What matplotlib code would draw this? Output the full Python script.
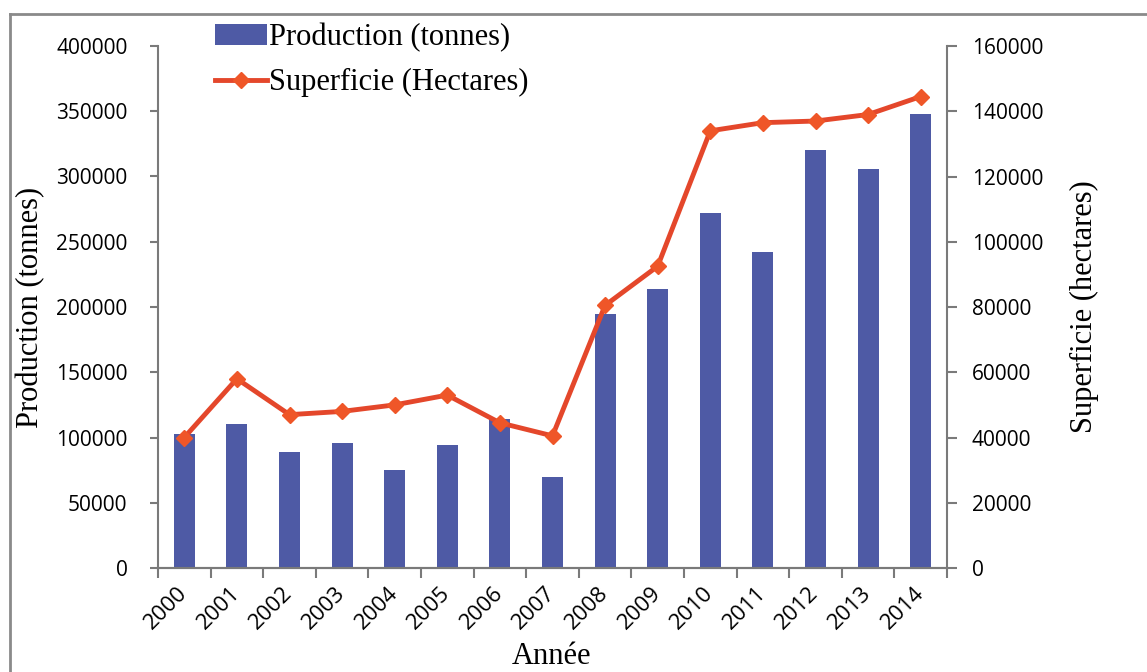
import numpy as np
import matplotlib
matplotlib.use("Agg")
import matplotlib.pyplot as plt
from matplotlib.lines import Line2D

# Données
annees = ["2000", "2001", "2002", "2003", "2004", "2005", "2006", "2007",
          "2008", "2009", "2010", "2011", "2012", "2013", "2014"]
production = [103000, 110000, 89000, 96000, 75000, 94000, 114000, 70000,
              195000, 214000, 272000, 242000, 320000, 306000, 348000]
superficie = [40000, 58000, 47000, 48000, 50000, 53000, 44500, 40500,
              80500, 92500, 134000, 136500, 137000, 139000, 144500]

W, H = 1147, 672
fig = plt.figure(figsize=(W / 100, H / 100), dpi=100)
fig.patch.set_facecolor("white")

# cadre gris (bord gauche et haut seulement visibles)
fig.add_artist(Line2D([10 / W, 10 / W], [0, 1 - 14 / H], transform=fig.transFigure,
                      color="#8a8a8a", lw=2))
fig.add_artist(Line2D([10 / W, 1], [1 - 14 / H, 1 - 14 / H], transform=fig.transFigure,
                      color="#8a8a8a", lw=2))

left, right, bottom, top = 158 / W, 947 / W, 1 - 568 / H, 1 - 46 / H
ax = fig.add_axes([left, bottom, right - left, top - bottom])
ax2 = ax.twinx()

x = np.arange(len(annees))
bar_color = "#4E5AA5"
line_color = "#E4472B"
mark_color = "#EF5628"

bars = ax.bar(x, production, width=0.4, color=bar_color, zorder=2,
              label="Production (tonnes)")
ln, = ax2.plot(x, superficie, color=line_color, lw=3.5, marker="D", markersize=8,
               markerfacecolor=mark_color, markeredgecolor=mark_color, zorder=3,
               label="Superficie (Hectares)")

ax.set_xlim(-0.5, len(annees) - 0.5)
ax.set_ylim(0, 400000)
ax2.set_ylim(0, 160000)
ax.set_yticks(np.arange(0, 400001, 50000))
ax2.set_yticks(np.arange(0, 160001, 20000))

tick_font = {"family": "Open Sans", "size": 16}
serif = "Liberation Serif"

# graduations aux limites des catégories, étiquettes au centre
ax.set_xticks(x)
ax.set_xticks(np.arange(-0.5, len(annees), 1.0), minor=True)
ax.tick_params(axis="x", which="major", length=0, pad=16)
ax.tick_params(axis="x", which="minor", length=7, width=1.5, color="#7a7a7a", direction="out")
ax.set_xticklabels(annees, rotation=45, ha="right", va="center",
                   rotation_mode="anchor", fontdict=tick_font)

ax.tick_params(axis="y", length=6, width=1.5, color="#7a7a7a", pad=16)
ax2.tick_params(axis="y", length=7, width=1.5, color="#7a7a7a", pad=11)
for lab in ax.get_yticklabels() + ax2.get_yticklabels():
    lab.set_fontfamily("Open Sans")
    lab.set_fontsize(15)

for a in (ax, ax2):
    a.spines["top"].set_visible(False)
    for s in ("left", "right", "bottom"):
        a.spines[s].set_color("#7a7a7a")
        a.spines[s].set_linewidth(1.5)
    a.set_facecolor("none")
ax2.spines["left"].set_visible(False)
ax.spines["right"].set_visible(False)
ax.set_zorder(1)
ax2.set_zorder(2)

ax.set_ylabel("Production (tonnes)", family=serif, fontsize=22)
ax.yaxis.set_label_coords(-0.143, 0.5)
ax2.set_ylabel("Superficie (hectares)", family=serif, fontsize=22, rotation=90)
ax2.yaxis.set_label_coords(1.156, 0.5)
fig.text(552 / W, 1 - 657 / H, "Année", family=serif, fontsize=22,
         ha="center", va="center")

fig.legend(handles=[bars, ln], loc="upper left",
           bbox_to_anchor=(215 / W, 1 - 23 / H), frameon=False,
           prop={"family": serif, "size": 22}, handlelength=1.7,
           handletextpad=0.08, labelspacing=0.52, borderpad=0.0,
           borderaxespad=0.0)

fig.savefig("out.png", dpi=100, facecolor="white")
